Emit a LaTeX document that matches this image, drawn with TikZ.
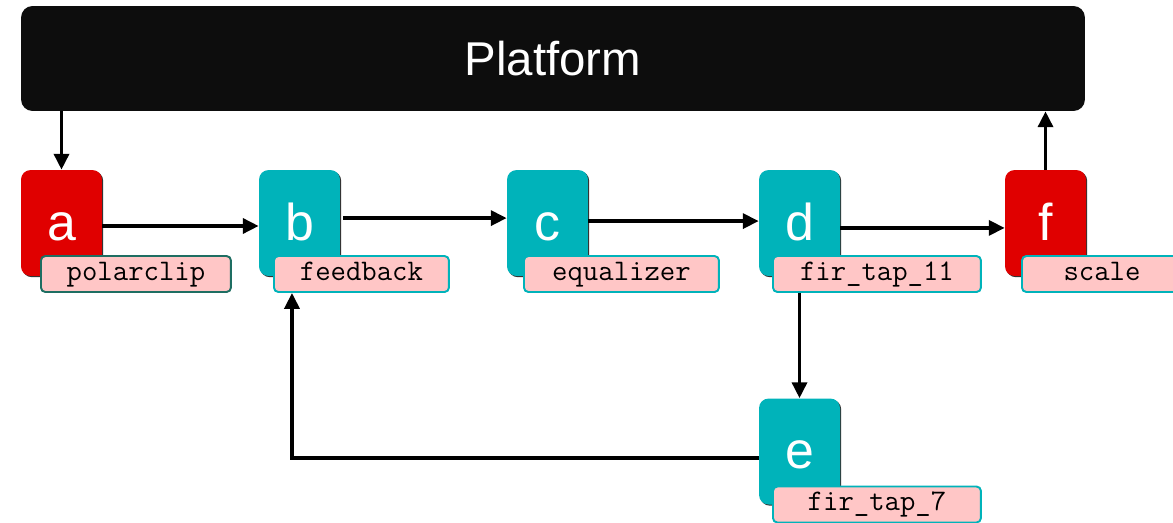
\documentclass[tikz,border=0pt]{standalone}
\usepackage{fontspec}
\setmainfont{Liberation Sans}
\usetikzlibrary{arrows.meta, positioning, shadows}
\definecolor{blkred}{HTML}{E00000}
\definecolor{blkteal}{HTML}{00B3BA}
\definecolor{tagpink}{HTML}{FFC6C6}
\definecolor{tagedge}{HTML}{1E6E62}
\definecolor{platblack}{HTML}{0D0D0D}

\begin{document}
\begin{tikzpicture}[
    x=0.02cm, y=-0.02cm,
    block/.style={rounded corners=5.5pt, minimum width=1.62cm, minimum height=2.12cm,
                  inner sep=0pt, text=white, text height=0.68cm, text depth=0pt,
                  font=\fontsize{29.5}{30}\selectfont,
                  drop shadow={shadow xshift=0.7pt, shadow yshift=-0.7pt, fill=black!80, opacity=1}},
    redblock/.style={block, fill=blkred},
    tealblock/.style={block, fill=blkteal},
    tag/.style={draw=blkteal, line width=1.1pt, fill=tagpink, rounded corners=2.5pt,
                minimum height=0.72cm, inner sep=0pt, anchor=west,
                text height=9pt, text depth=2pt,
                font=\ttfamily\fontsize{17}{17}\selectfont},
    flow/.style={line width=2pt, -{Triangle[length=9pt, width=8.5pt]}},
]
    \useasboundingbox (0,0) rectangle (1173,522);

    \node[fill=platblack, rounded corners=6.5pt, minimum width=21.28cm, minimum height=2.1cm,
          text=white, font=\fontsize{27}{30}\selectfont] (platform) at (553,58.5) {Platform};

    % processing blocks
    \node[redblock]  (a) at (61.5,223)  {a};
    \node[tealblock] (b) at (299.5,223) {b};
    \node[tealblock] (c) at (547.5,223) {c};
    \node[tealblock] (d) at (799.5,223) {d};
    \node[redblock]  (f) at (1045.5,223) {f};
    \node[tealblock] (e) at (799.5,451.5) {e};

    % name tags
    \node[tag, draw=tagedge, minimum width=3.8cm] (la) at (40,274)   {polarclip};
    \node[tag, minimum width=3.5cm]  (lb) at (273,274)  {feedback};
    \node[tag, minimum width=3.9cm]  (lc) at (523,274)  {equalizer};
    \node[tag, minimum width=4.16cm] (ld) at (772,274)  {fir\_tap\_11};
    \node[tag, minimum width=3.2cm]  (lf) at (1021,274) {scale};
    \node[tag, minimum width=4.16cm] (le) at (772,504.5) {fir\_tap\_7};

    % data flow
    \draw[flow] (a.north |- platform.south) -- (a.north);
    \draw[flow] ([yshift=-1.7pt]a.east) -- ([yshift=-1.7pt]b.west);
    \draw[flow] ([xshift=1.7pt, yshift=2.8pt]b.east) -- ([yshift=2.8pt]c.west);
    \draw[flow] ([yshift=1.1pt]c.east) -- ([yshift=1.1pt]d.west);
    \draw[flow] ([yshift=-2.8pt]d.east) -- ([yshift=-2.8pt]f.west);
    \draw[flow] (f.north) -- (f.north |- platform.south);
    \draw[flow] (ld.south -| d) -- (e.north);
    \draw[flow] ([yshift=-3.7pt]e.west) -| ([xshift=10.8pt]lb.south west);
\end{tikzpicture}
\end{document}
